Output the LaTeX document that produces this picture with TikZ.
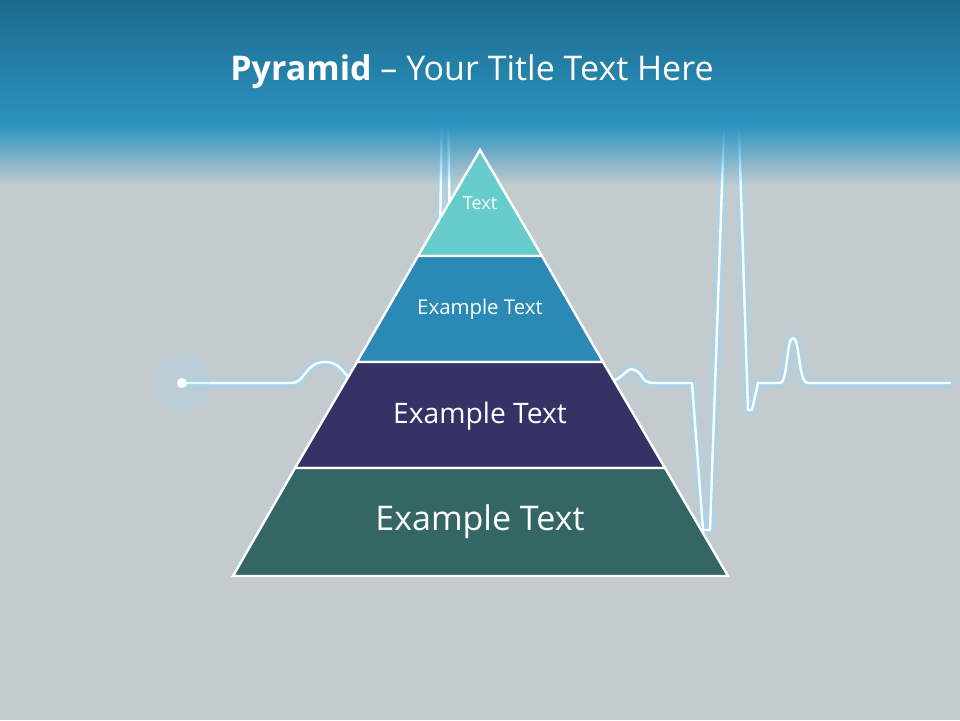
\documentclass[tikz,border=0pt]{standalone}
\usepackage{fontspec}
\usetikzlibrary{fadings}
\setmainfont{Open Sans}
\begin{document}
\begin{tikzpicture}[x=0.5pt,y=-0.5pt,
  layer/.style={draw=white,line width=1.2pt},
  lbl/.style={text=white,font=#1},
  ecg/.style={draw=#1,line join=round,line cap=round}]
\definecolor{topA}{HTML}{1D6A8C}\definecolor{topB}{HTML}{2A93C0}
\definecolor{gr}{HTML}{C3CBCF}\definecolor{glow}{HTML}{9FD8F5}
\useasboundingbox (0,0) rectangle (960,720);
\fill[gr] (0,0) rectangle (960,720);
% ECG line
\foreach \w/\c/\o in {6/glow/0.25,3/glow/0.5,1.2/white/1}{
\draw[ecg=\c,line width=\w pt,opacity=\o] (182,383) -- (292,383) .. controls (305,383) and (305,362) .. (325,362) .. controls (345,362) and (345,383) .. (360,383)
 -- (438,383) -- (442,100) -- (448,100) -- (452,383) -- (600,383) .. controls (625,383) and (625,365) .. (635,370) .. controls (645,375) and (640,383) .. (655,383)
 -- (692,383) -- (703,530) -- (710,530) -- (725,100) -- (738,100) -- (748,410) -- (752,410) -- (758,383) -- (780,383)
 .. controls (788,383) and (786,338) .. (793,338) .. controls (800,338) and (798,383) .. (808,383) -- (950,383);}
\fill[glow,opacity=0.2] (182,383) circle (28);
\draw[glow,opacity=0.4] (182,383) circle (28);
\fill[white] (182,383) circle (5);
\shade[top color=topA,bottom color=topB] (0,0) rectangle (960,125);
\fill[topB,path fading=south] (0,125) rectangle (960,185);
% pyramid
\coordinate (apex) at (480,150);
\filldraw[layer,fill={rgb,255:red,102;green,204;blue,204}] (apex) -- (542,256) -- (418,256) -- cycle;
\filldraw[layer,fill={rgb,255:red,42;green,138;blue,181}] (418,256) -- (542,256) -- (603,362) -- (357,362) -- cycle;
\filldraw[layer,fill={rgb,255:red,53;green,51;blue,102}] (357,362) -- (603,362) -- (665,468) -- (295,468) -- cycle;
\filldraw[layer,fill={rgb,255:red,53;green,102;blue,102}] (295,468) -- (665,468) -- (728,576) -- (233,576) -- cycle;
\node[lbl=\fontsize{9}{11}\selectfont] (t1) at (480,203) {Text};
\node[lbl=\fontsize{10.2}{12}\selectfont] (t2) at (480,309) {Example Text};
\node[lbl=\fontsize{14.1}{16}\selectfont] (t3) at (480,416) {Example Text};
\node[lbl=\fontsize{17}{20}\selectfont] (t4) at (480,522) {Example Text};
\node[lbl=\fontsize{17}{20}\selectfont] (title) at (472,72) {\textbf{Pyramid} -- Your Title Text Here};
\end{tikzpicture}
\end{document}
